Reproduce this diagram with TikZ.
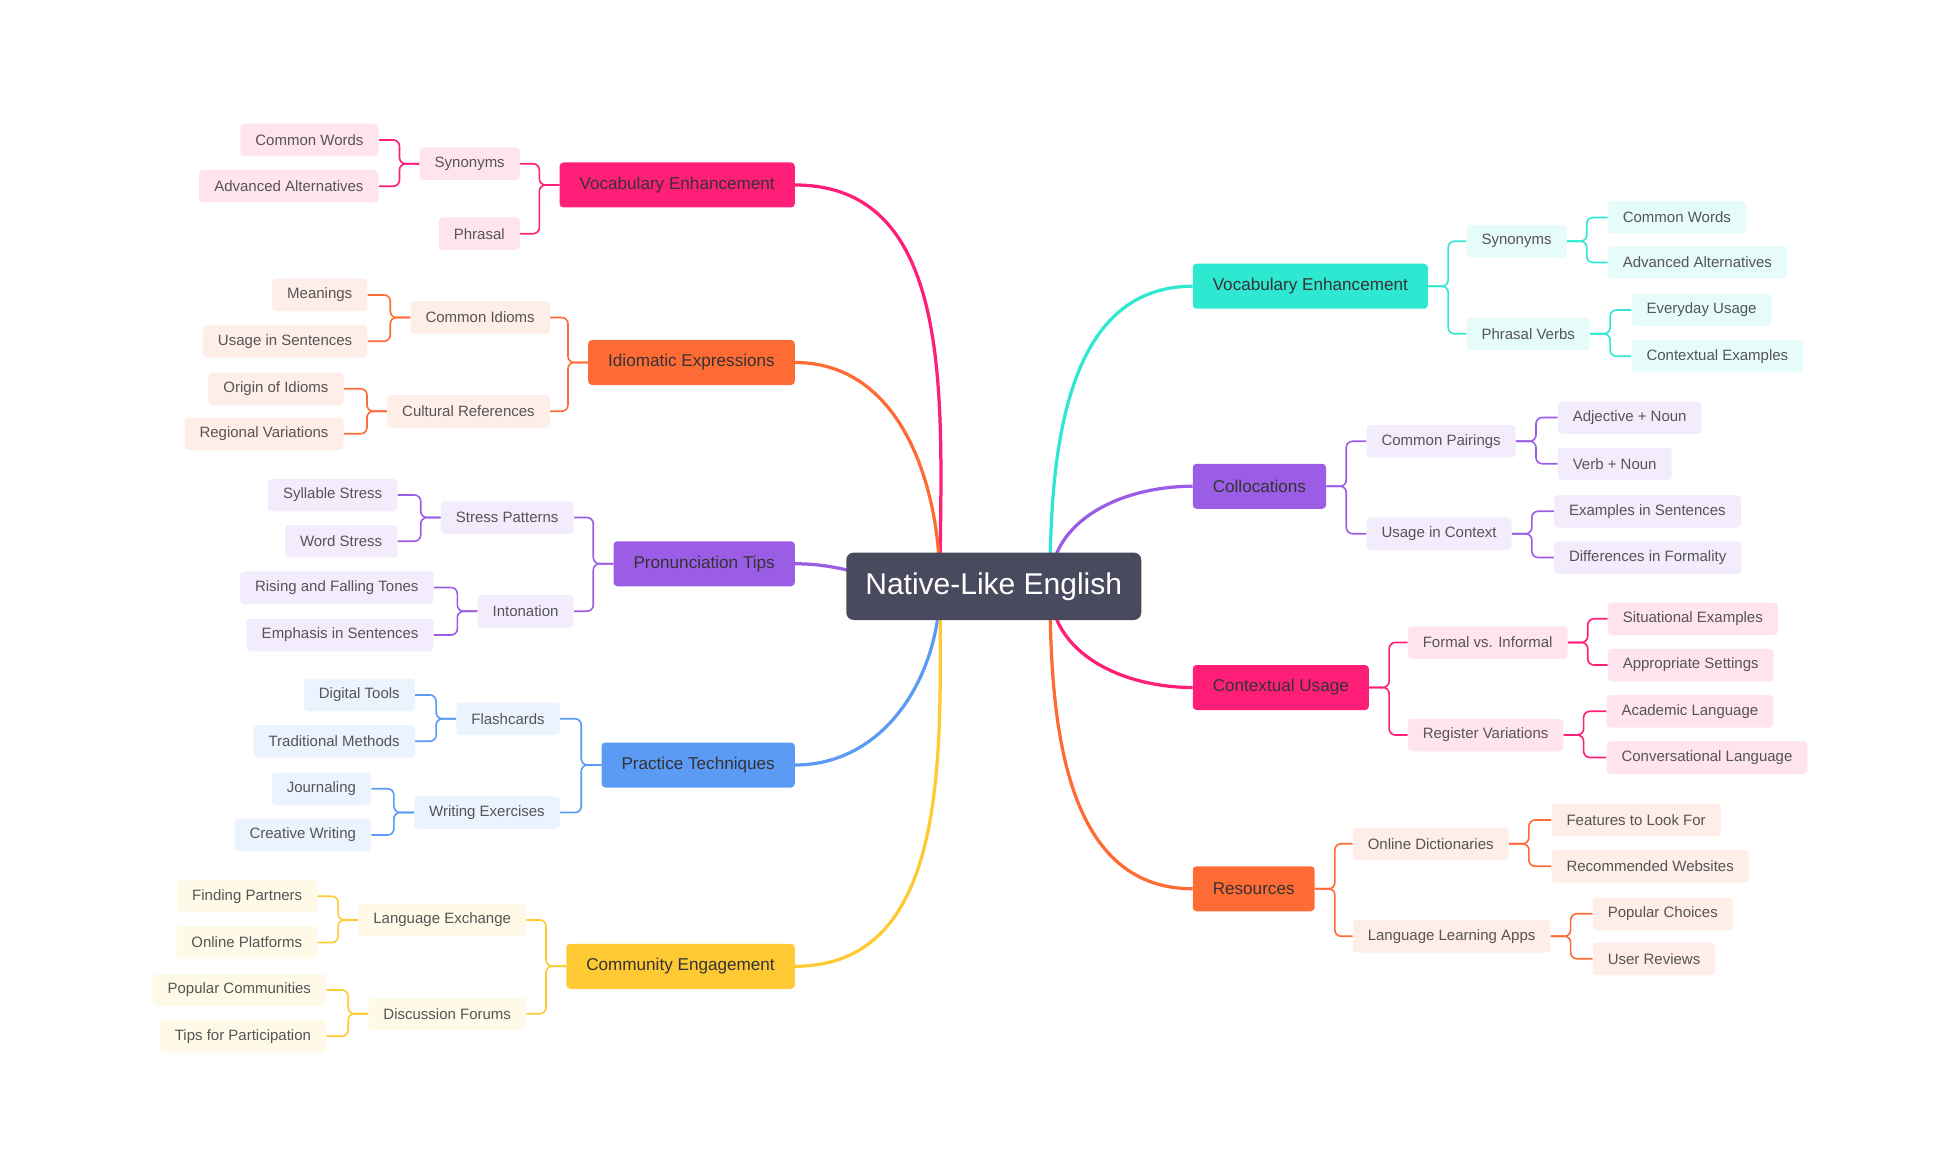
\documentclass[tikz,border=0pt]{standalone}
\usepackage{fontspec}
\setmainfont{Liberation Sans}
\usetikzlibrary{backgrounds}
\definecolor{cpink}{HTML}{FF1F78}
\definecolor{corange}{HTML}{FF6B35}
\definecolor{cpurple}{HTML}{9B5DE5}
\definecolor{cblue}{HTML}{5B9BF5}
\definecolor{cyellow}{HTML}{FFC933}
\definecolor{ccyan}{HTML}{2EE8D2}
\definecolor{croot}{HTML}{4A4A5E}
\definecolor{txt}{HTML}{555555}
\definecolor{dtxt}{HTML}{333333}
\tikzset{
 lf/.style={fill=#1!12, text=txt, font=\fontsize{12}{14}\selectfont, minimum height=26pt, inner xsep=12pt, rounded corners=3pt},
 mn/.style={fill=#1, text=dtxt, font=\fontsize{13.7}{16}\selectfont, minimum height=36pt, inner xsep=16pt, rounded corners=3pt},
 ln/.style={draw=#1, line width=1.3pt, rounded corners=5pt},
 cv/.style={draw=#1, line width=2.6pt},
}
\begin{document}
\begin{tikzpicture}[x=1pt,y=-1pt]
\useasboundingbox (0,0) rectangle (1564,936);
\node[fill=croot, text=white, rounded corners=6pt, minimum width=236pt, minimum height=54pt, font=\fontsize{24}{28}\selectfont] (root) at (795,469) {Native-Like English};
% ---------- left
\node[mn=cpink, anchor=east] (L1) at (636,148) {Vocabulary Enhancement};
\node[lf=cpink, anchor=east] (L1a) at (416,131) {Synonyms};
\node[lf=cpink, anchor=east] (L1b) at (416,187) {Phrasal};
\node[lf=cpink, anchor=east] (L1a1) at (303,112) {Common Words};
\node[lf=cpink, anchor=east] (L1a2) at (303,149) {Advanced Alternatives};
\node[mn=corange, anchor=east] (L2) at (636,290) {Idiomatic Expressions};
\node[lf=corange, anchor=east] (L2a) at (440,254) {Common Idioms};
\node[lf=corange, anchor=east] (L2b) at (440,329) {Cultural References};
\node[lf=corange, anchor=east] (L2a1) at (294,236) {Meanings};
\node[lf=corange, anchor=east] (L2a2) at (294,273) {Usage in Sentences};
\node[lf=corange, anchor=east] (L2b1) at (275,311) {Origin of Idioms};
\node[lf=corange, anchor=east] (L2b2) at (275,347) {Regional Variations};
\node[mn=cpurple, anchor=east] (L3) at (636,451) {Pronunciation Tips};
\node[lf=cpurple, anchor=east] (L3a) at (459,414) {Stress Patterns};
\node[lf=cpurple, anchor=east] (L3b) at (459,489) {Intonation};
\node[lf=cpurple, anchor=east] (L3a1) at (318,396) {Syllable Stress};
\node[lf=cpurple, anchor=east] (L3a2) at (318,433) {Word Stress};
\node[lf=cpurple, anchor=east] (L3b1) at (347,470) {Rising and Falling Tones};
\node[lf=cpurple, anchor=east] (L3b2) at (347,508) {Emphasis in Sentences};
\node[mn=cblue, anchor=east] (L4) at (636,612) {Practice Techniques};
\node[lf=cblue, anchor=east] (L4a) at (448,575) {Flashcards};
\node[lf=cblue, anchor=east] (L4b) at (448,650) {Writing Exercises};
\node[lf=cblue, anchor=east] (L4a1) at (332,556) {Digital Tools};
\node[lf=cblue, anchor=east] (L4a2) at (332,593) {Traditional Methods};
\node[lf=cblue, anchor=east] (L4b1) at (297,631) {Journaling};
\node[lf=cblue, anchor=east] (L4b2) at (297,668) {Creative Writing};
\node[mn=cyellow, anchor=east] (L5) at (636,773) {Community Engagement};
\node[lf=cyellow, anchor=east] (L5a) at (421,736) {Language Exchange};
\node[lf=cyellow, anchor=east] (L5b) at (421,811) {Discussion Forums};
\node[lf=cyellow, anchor=east] (L5a1) at (254,717) {Finding Partners};
\node[lf=cyellow, anchor=east] (L5a2) at (254,754) {Online Platforms};
\node[lf=cyellow, anchor=east] (L5b1) at (261,792) {Popular Communities};
\node[lf=cyellow, anchor=east] (L5b2) at (261,829) {Tips for Participation};
% ---------- right
\node[mn=ccyan, anchor=west] (R1) at (954,229) {Vocabulary Enhancement};
\node[lf=ccyan, anchor=west] (R1a) at (1173,193) {Synonyms};
\node[lf=ccyan, anchor=west] (R1b) at (1173,267) {Phrasal Verbs};
\node[lf=ccyan, anchor=west] (R1a1) at (1286,174) {Common Words};
\node[lf=ccyan, anchor=west] (R1a2) at (1286,210) {Advanced Alternatives};
\node[lf=ccyan, anchor=west] (R1b1) at (1305,248) {Everyday Usage};
\node[lf=ccyan, anchor=west] (R1b2) at (1305,285) {Contextual Examples};
\node[mn=cpurple, anchor=west] (R2) at (954,389) {Collocations};
\node[lf=cpurple, anchor=west] (R2a) at (1093,353) {Common Pairings};
\node[lf=cpurple, anchor=west] (R2b) at (1093,427) {Usage in Context};
\node[lf=cpurple, anchor=west] (R2a1) at (1246,334) {Adjective + Noun};
\node[lf=cpurple, anchor=west] (R2a2) at (1246,371) {Verb + Noun};
\node[lf=cpurple, anchor=west] (R2b1) at (1243,409) {Examples in Sentences};
\node[lf=cpurple, anchor=west] (R2b2) at (1243,446) {Differences in Formality};
\node[mn=cpink, anchor=west] (R3) at (954,550) {Contextual Usage};
\node[lf=cpink, anchor=west] (R3a) at (1126,514) {Formal vs. Informal};
\node[lf=cpink, anchor=west] (R3b) at (1126,588) {Register Variations};
\node[lf=cpink, anchor=west] (R3a1) at (1286,495) {Situational Examples};
\node[lf=cpink, anchor=west] (R3a2) at (1286,532) {Appropriate Settings};
\node[lf=cpink, anchor=west] (R3b1) at (1285,569) {Academic Language};
\node[lf=cpink, anchor=west] (R3b2) at (1285,606) {Conversational Language};
\node[mn=corange, anchor=west] (R4) at (954,711) {Resources};
\node[lf=corange, anchor=west] (R4a) at (1082,675) {Online Dictionaries};
\node[lf=corange, anchor=west] (R4b) at (1082,749) {Language Learning Apps};
\node[lf=corange, anchor=west] (R4a1) at (1241,656) {Features to Look For};
\node[lf=corange, anchor=west] (R4a2) at (1241,693) {Recommended Websites};
\node[lf=corange, anchor=west] (R4b1) at (1274,731) {Popular Choices};
\node[lf=corange, anchor=west] (R4b2) at (1274,767) {User Reviews};
\coordinate (rl) at (752,469);
\coordinate (rr) at (840,469);
\begin{pgfonlayer}{background}
\draw[cv=cpink] (L1.east) to[out=0,in=90] (rl);
\draw[cv=corange] (L2.east) to[out=0,in=90] (rl);
\draw[cv=cpurple] (L3.east) to[out=0,in=180] (rl);
\draw[cv=cblue] (L4.east) to[out=0,in=-90] (rl);
\draw[cv=cyellow] (L5.east) to[out=0,in=-90] (rl);
\draw[cv=ccyan] (rr) to[out=90,in=180] (R1.west);
\draw[cv=cpurple] (rr) to[out=90,in=180] (R2.west);
\draw[cv=cpink] (rr) to[out=-90,in=180] (R3.west);
\draw[cv=corange] (rr) to[out=-90,in=180] (R4.west);
\foreach \p/\c/\k in {L1/L1a/cpink,L1/L1b/cpink,L1a/L1a1/cpink,L1a/L1a2/cpink,
 L2/L2a/corange,L2/L2b/corange,L2a/L2a1/corange,L2a/L2a2/corange,L2b/L2b1/corange,L2b/L2b2/corange,
 L3/L3a/cpurple,L3/L3b/cpurple,L3a/L3a1/cpurple,L3a/L3a2/cpurple,L3b/L3b1/cpurple,L3b/L3b2/cpurple,
 L4/L4a/cblue,L4/L4b/cblue,L4a/L4a1/cblue,L4a/L4a2/cblue,L4b/L4b1/cblue,L4b/L4b2/cblue,
 L5/L5a/cyellow,L5/L5b/cyellow,L5a/L5a1/cyellow,L5a/L5a2/cyellow,L5b/L5b1/cyellow,L5b/L5b2/cyellow}
 {\draw[ln=\k] (\p.west) -- ++(-16,0) |- (\c.east);}
\foreach \p/\c/\k in {R1/R1a/ccyan,R1/R1b/ccyan,R1a/R1a1/ccyan,R1a/R1a2/ccyan,R1b/R1b1/ccyan,R1b/R1b2/ccyan,
 R2/R2a/cpurple,R2/R2b/cpurple,R2a/R2a1/cpurple,R2a/R2a2/cpurple,R2b/R2b1/cpurple,R2b/R2b2/cpurple,
 R3/R3a/cpink,R3/R3b/cpink,R3a/R3a1/cpink,R3a/R3a2/cpink,R3b/R3b1/cpink,R3b/R3b2/cpink,
 R4/R4a/corange,R4/R4b/corange,R4a/R4a1/corange,R4a/R4a2/corange,R4b/R4b1/corange,R4b/R4b2/corange}
 {\draw[ln=\k] (\p.east) -- ++(16,0) |- (\c.west);}
\end{pgfonlayer}
\end{tikzpicture}
\end{document}
